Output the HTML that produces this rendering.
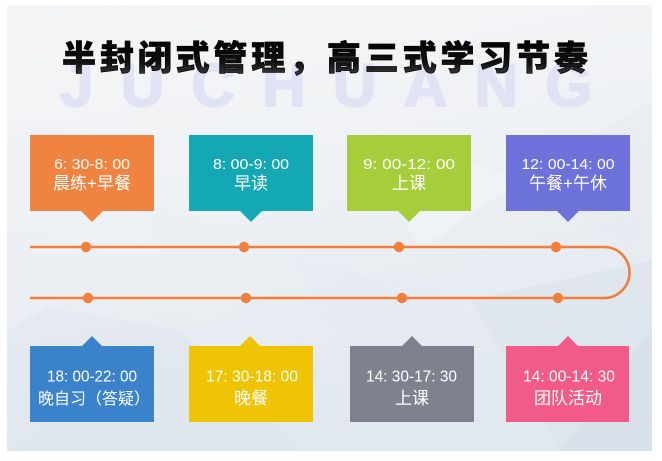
<!DOCTYPE html>
<html><head><meta charset="utf-8"><style>
html,body{margin:0;padding:0;background:#fff;}
svg{display:block;}
.t{font-family:"Liberation Sans","Noto Sans CJK SC",sans-serif;fill:#fff;}
.c{font-family:"Liberation Sans","Noto Sans CJK SC",sans-serif;fill:#fff;}
</style></head><body>
<svg width="662" height="461" viewBox="0 0 662 461" xmlns="http://www.w3.org/2000/svg">
<defs>
<linearGradient id="bg" x1="0" y1="0" x2="0.3" y2="1">
<stop offset="0" stop-color="#f5f5f6"/>
<stop offset="0.45" stop-color="#eff2f5"/>
<stop offset="1" stop-color="#e1e8ef"/>
</linearGradient>
<linearGradient id="tg" x1="0" y1="0" x2="0" y2="1">
<stop offset="0" stop-color="#000"/>
<stop offset="0.6" stop-color="#111"/>
<stop offset="1" stop-color="#444"/>
</linearGradient>
</defs>
<rect x="7" y="5" width="645" height="446" fill="url(#bg)"/>
<!-- low poly shading -->
<g opacity="0.55">
<polygon points="7,300 180,330 7,451" fill="#e0e7ee"/>
<polygon points="180,330 300,451 7,451" fill="#dde5ee"/>
<polygon points="7,220 130,260 7,330" fill="#ecf0f4"/>
<polygon points="300,260 470,300 380,451" fill="#e6ebf2"/>
<polygon points="470,300 652,260 652,451 560,451" fill="#dbe3ed"/>
<polygon points="520,180 652,100 652,260" fill="#e7ebf1"/>
<polygon points="350,120 520,180 420,250" fill="#f3f5f8"/>
<polygon points="140,200 300,260 200,330" fill="#ebeff4"/>
<polygon points="560,451 652,330 652,451" fill="#d1dbe7"/>
<polygon points="7,120 160,150 7,230" fill="#eff2f5"/>
</g>
<!-- watermark -->
<text x="60" y="106" font-family="Liberation Sans,sans-serif" font-weight="bold" font-size="60" fill="#dfe3f3" stroke="#dfe3f3" stroke-width="2" textLength="532" lengthAdjust="spacing">JUCHUANG</text>
<!-- title -->
<text x="62" y="70" font-family="'Liberation Sans','Noto Sans CJK SC',sans-serif" font-weight="900" font-size="34" fill="url(#tg)" stroke="#000" stroke-width="0.7" textLength="526" lengthAdjust="spacing">半封闭式管理，高三式学习节奏</text>

<!-- timeline -->
<path d="M30,247 H604 A25.5,25.5 0 0 1 604,298 H30" fill="none" stroke="#ef7f3a" stroke-width="2.6"/>
<g fill="#ef7f3a">
<circle cx="86" cy="247" r="5.2"/><circle cx="244" cy="247" r="5.2"/><circle cx="399" cy="247" r="5.2"/><circle cx="556" cy="247" r="5.2"/>
<circle cx="88" cy="298" r="5.2"/><circle cx="246" cy="298" r="5.2"/><circle cx="402" cy="298" r="5.2"/><circle cx="558" cy="298" r="5.2"/>
</g>

<!-- top boxes -->
<g>
<path d="M30,135 H154 V211 H103 L92,222 L81,211 H30 Z" fill="#f0833f"/>
<text class="t" x="92" y="169" font-size="15" text-anchor="middle" textLength="76" lengthAdjust="spacingAndGlyphs">6: 30-8: 00</text>
<text class="c" x="92" y="189" font-size="17" text-anchor="middle">晨练+早餐</text>

<path d="M189,135 H313 V211 H262 L251,222 L240,211 H189 Z" fill="#14a8b4"/>
<text class="t" x="251" y="169" font-size="15" text-anchor="middle" textLength="76" lengthAdjust="spacingAndGlyphs">8: 00-9: 00</text>
<text class="c" x="251" y="189" font-size="17" text-anchor="middle">早读</text>

<path d="M347,135 H471 V211 H420 L409,222 L398,211 H347 Z" fill="#a6cd3a"/>
<text class="t" x="409" y="169" font-size="15" text-anchor="middle" textLength="92" lengthAdjust="spacingAndGlyphs">9: 00-12: 00</text>
<text class="c" x="409" y="189" font-size="17" text-anchor="middle">上课</text>

<path d="M506,135 H630 V211 H579 L568,222 L557,211 H506 Z" fill="#6c72d9"/>
<text class="t" x="568" y="169" font-size="15" text-anchor="middle" textLength="93" lengthAdjust="spacingAndGlyphs">12: 00-14: 00</text>
<text class="c" x="568" y="189" font-size="17" text-anchor="middle">午餐+午休</text>
</g>

<!-- bottom boxes -->
<g>
<path d="M30,346 H82 L92,336 L102,346 H154 V422 H30 Z" fill="#3a83ca"/>
<text class="t" x="92" y="381.5" font-size="15.5" text-anchor="middle" textLength="90" lengthAdjust="spacingAndGlyphs">18: 00-22: 00</text>
<text class="c" x="94" y="404" font-size="16" text-anchor="middle">晚自习（答疑）</text>

<path d="M189,346 H240 L250,336 L260,346 H313 V422 H189 Z" fill="#eec405"/>
<text class="t" x="252" y="381.5" font-size="15.5" text-anchor="middle" textLength="92" lengthAdjust="spacingAndGlyphs">17: 30-18: 00</text>
<text class="c" x="251" y="404" font-size="17" text-anchor="middle">晚餐</text>

<path d="M350,346 H402 L412,336 L422,346 H474 V422 H350 Z" fill="#80818f"/>
<text class="t" x="411.5" y="381.5" font-size="15.5" text-anchor="middle" textLength="91" lengthAdjust="spacingAndGlyphs">14: 30-17: 30</text>
<text class="c" x="412" y="404" font-size="17" text-anchor="middle">上课</text>

<path d="M506,346 H558 L568,336 L578,346 H629 V422 H506 Z" fill="#f25a87"/>
<text class="t" x="569" y="381.5" font-size="15.5" text-anchor="middle" textLength="92" lengthAdjust="spacingAndGlyphs">14: 00-14: 30</text>
<text class="c" x="568" y="404" font-size="17" text-anchor="middle">团队活动</text>
</g>
</svg>
</body></html>
